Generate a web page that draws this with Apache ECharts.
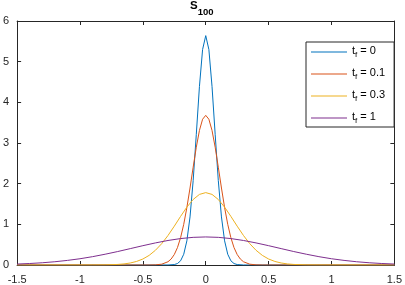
<!DOCTYPE html>
<html>
<head>
<meta charset="utf-8">
<script src="https://cdn.jsdelivr.net/npm/echarts@6/dist/echarts.min.js"></script>
<style>html,body{margin:0;padding:0;background:#fff;}#c{width:405px;height:285px;}</style>
</head>
<body>
<div id="c"></div>
<script>
var xTicks = [-1.5, -1, -0.5, 0, 0.5, 1, 1.5];
var yTicks = [0, 1, 2, 3, 4, 5, 6];
var tfLabels = ['0', '0.1', '0.3', '1'];
var colors = ['#0072BD', '#D95319', '#EDB120', '#7E2F8E'];

var x0 = [-1.5,-0.3,-0.25,-0.225,-0.2,-0.175,-0.15,-0.125,-0.1,-0.075,-0.05,-0.025,0,0.025,0.05,0.075,0.1,0.125,0.15,0.175,0.2,0.225,0.25,0.3,1.5];
var y0 = [0,0.0007,0.0109,0.0357,0.103,0.264,0.594,1.182,2.075,3.214,4.392,5.298,5.64,5.298,4.392,3.214,2.075,1.182,0.594,0.264,0.103,0.0357,0.0109,0.0007,0];

var x1 = [-1.5,-0.5,-0.45,-0.4,-0.35,-0.3,-0.275,-0.25,-0.225,-0.2,-0.175,-0.15,-0.125,-0.1,-0.075,-0.05,-0.025,0,0.025,0.05,0.075,0.1,0.125,0.15,0.175,0.2,0.225,0.25,0.275,0.3,0.35,0.4,0.45,0.5,1.5];
var y1 = [0,0.0001,0.0007,0.0041,0.0201,0.080,0.1475,0.258,0.427,0.671,1.000,1.413,1.893,2.405,2.897,3.309,3.584,3.68,3.584,3.309,2.897,2.405,1.893,1.413,1.000,0.671,0.427,0.258,0.1475,0.080,0.0201,0.0041,0.0007,0.0001,0];

var x2 = [-1.5,-1.0,-0.9,-0.8,-0.7,-0.65,-0.6,-0.55,-0.5,-0.45,-0.4,-0.35,-0.3,-0.25,-0.2,-0.15,-0.1,-0.05,0,0.05,0.1,0.15,0.2,0.25,0.3,0.35,0.4,0.45,0.5,0.55,0.6,0.65,0.7,0.8,0.9,1.0,1.5];
var y2 = [0,0.0001,0.0006,0.0030,0.0135,0.0265,0.0494,0.0875,0.1475,0.237,0.362,0.525,0.726,0.955,1.195,1.423,1.611,1.736,1.78,1.736,1.611,1.423,1.195,0.955,0.726,0.525,0.362,0.237,0.1475,0.0875,0.0494,0.0265,0.0135,0.0030,0.0006,0.0001,0];

var x3 = [-1.5,-1.4,-1.3,-1.2,-1.1,-1.0,-0.9,-0.8,-0.7,-0.6,-0.5,-0.4,-0.3,-0.2,-0.1,0,0.1,0.2,0.3,0.4,0.5,0.6,0.7,0.8,0.9,1.0,1.1,1.2,1.3,1.4,1.5];
var y3 = [0.0238,0.0367,0.055,0.080,0.113,0.154,0.205,0.265,0.331,0.403,0.475,0.543,0.603,0.650,0.680,0.69,0.680,0.650,0.603,0.543,0.475,0.403,0.331,0.265,0.205,0.154,0.113,0.080,0.055,0.0367,0.0238];

var xs = [x0, x1, x2, x3];
var ys = [y0, y1, y2, y3];

function pairs(xa, ya) { return xa.map(function (v, i) { return [v, ya[i]]; }); }

var axisCol = '#262626';
var font = 'Liberation Sans, Arial, Helvetica, sans-serif';

var series = tfLabels.map(function (lab, i) {
  return {
    name: 't_f = ' + lab,
    type: 'line',
    data: pairs(xs[i], ys[i]),
    symbol: 'none',
    showSymbol: false,
    smooth: false,
    sampling: null,
    lineStyle: { width: 1, color: colors[i] },
    itemStyle: { color: colors[i] },
    animation: false
  };
});

var chart = echarts.init(document.getElementById('c'), null, { renderer: 'canvas' });
chart.setOption({
  animation: false,
  color: colors,
  title: {
    text: '{s|S}{sub|100}',
    left: 190,
    top: 0,
    padding: 0,
    textAlign: 'left',
    textStyle: {
      rich: {
        s: { fontFamily: font, fontSize: 11.5, fontWeight: 'bold', color: '#000', padding: [0, 0, 5, 0], verticalAlign: 'bottom' },
        sub: { fontFamily: font, fontSize: 9.5, fontWeight: 'bold', color: '#000', verticalAlign: 'bottom' }
      }
    }
  },
  grid: { left: 13, right: 9, top: 21, bottom: 19, containLabel: false },
  legend: {
    orient: 'vertical',
    left: 306,
    top: 42,
    icon: 'rect',
    itemWidth: 36,
    itemHeight: 1.2,
    itemGap: 8,
    padding: [3, 9, 2, 5],
    backgroundColor: '#fff',
    borderColor: axisCol,
    borderWidth: 1,
    borderRadius: 0,
    formatter: function (name) {
      return '{t|t}{f|f}{t| = ' + name.split('= ')[1] + '}';
    },
    textStyle: {
      rich: {
        t: { fontFamily: font, fontSize: 11, color: '#000', padding: [0, 0, 3, 0], verticalAlign: 'bottom' },
        f: { fontFamily: font, fontSize: 8, color: '#000', verticalAlign: 'bottom' }
      }
    },
    data: tfLabels.map(function (l) { return 't_f = ' + l; })
  },
  xAxis: [{
    type: 'value', min: -1.5, max: 1.5, interval: 0.5, position: 'bottom',
    axisLine: { show: true, onZero: false, lineStyle: { color: axisCol, width: 1 } },
    axisTick: { show: true, inside: true, length: 4, lineStyle: { color: axisCol } },
    axisLabel: { show: true, margin: 9, color: axisCol, fontFamily: font, fontSize: 11,
      formatter: function (v) { return String(v); } },
    splitLine: { show: false }
  }, {
    type: 'value', min: -1.5, max: 1.5, interval: 0.5, position: 'top',
    axisLine: { show: true, onZero: false, lineStyle: { color: axisCol, width: 1 } },
    axisTick: { show: true, inside: true, length: 4, lineStyle: { color: axisCol } },
    axisLabel: { show: false },
    splitLine: { show: false }
  }],
  yAxis: [{
    type: 'value', min: 0, max: 6, interval: 1, position: 'left',
    axisLine: { show: true, onZero: false, lineStyle: { color: axisCol, width: 1 } },
    axisTick: { show: true, inside: true, length: 4, lineStyle: { color: axisCol } },
    axisLabel: { show: true, margin: 8, color: axisCol, fontFamily: font, fontSize: 11 },
    splitLine: { show: false }
  }, {
    type: 'value', min: 0, max: 6, interval: 1, position: 'right',
    axisLine: { show: true, onZero: false, lineStyle: { color: axisCol, width: 1 } },
    axisTick: { show: true, inside: true, length: 4, lineStyle: { color: axisCol } },
    axisLabel: { show: false },
    splitLine: { show: false }
  }],
  series: series
});
</script>
</body>
</html>
